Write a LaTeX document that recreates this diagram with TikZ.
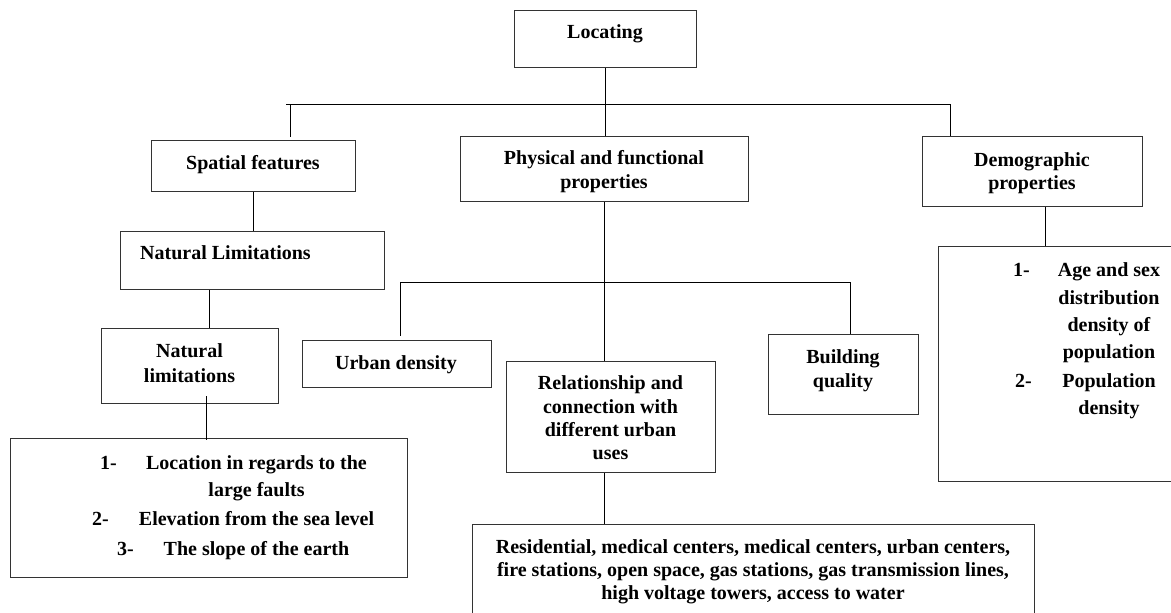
\documentclass[tikz,border=0pt]{standalone}
\usepackage{fontspec}
\setmainfont{Liberation Serif}
\begin{document}
\begin{tikzpicture}[x=1pt,y=-1pt,
  box/.style={draw=black!80, line width=1pt, rectangle, inner sep=0pt, anchor=north west},
  txt/.style={font=\fontsize{20}{23}\selectfont\bfseries, inner sep=0pt, anchor=base},
  txtl/.style={txt, anchor=base west},
  conn/.style={draw=black, line width=0.9pt}]
\useasboundingbox (0,0) rectangle (1171,613);
\clip (0,0) rectangle (1171,613);
\fill[white] (0,0) rectangle (1171,613);
% boxes
\node[box, minimum width=182, minimum height=57] (loc) at (514,10) {};
\node[box, minimum width=204, minimum height=51] (spat) at (151,140) {};
\node[box, minimum width=288, minimum height=65] (phys) at (460,136) {};
\node[box, minimum width=220, minimum height=70] (demo) at (922,136) {};
\node[box, minimum width=264, minimum height=58] (nl) at (120,231) {};
\node[box, minimum width=177, minimum height=75] (nl2) at (101,328) {};
\node[box, minimum width=397, minimum height=139] (list) at (10,438) {};
\node[box, minimum width=189, minimum height=47] (urban) at (302,340) {};
\node[box, minimum width=209, minimum height=111] (rel) at (506,361) {};
\node[box, minimum width=150, minimum height=80] (bldg) at (768,334) {};
\node[box, minimum width=562, minimum height=116] (uses) at (472,524) {};
\node[box, minimum width=252, minimum height=235] (demol) at (938,246) {};
% junction coordinates
\coordinate (barL) at (286,104);
\coordinate (barR) at (950,104);
\coordinate (b1) at (290,104);
\coordinate (bar2L) at (400,282);
\coordinate (bar2R) at (850,282);
% connectors
\draw[conn] (loc.south) -- (loc.south |- phys.north);
\draw[conn] (barL) -- (barR);
\draw[conn] (b1) -- ([yshift=3pt]b1 |- spat.north);
\draw[conn] (barR) -- (barR |- demo.north);
\draw[conn] (spat.south) -- (spat.south |- nl.north);
\draw[conn] ([xshift=-43pt]nl.south) -- ([xshift=-43pt]nl.south |- nl2.north);
\draw[conn] ([xshift=16pt,yshift=8pt]nl2.south) -- ([xshift=16pt,yshift=-2pt]nl2.south |- list.north);
\draw[conn] (phys.south) -- (phys.south |- rel.north);
\draw[conn] (bar2L) -- (bar2R);
\draw[conn] (bar2L) -- ([yshift=4pt]bar2L |- urban.north);
\draw[conn] (bar2R) -- (bar2R |- bldg.north);
\draw[conn] (phys.south |- rel.south) -- (phys.south |- uses.north);
\draw[conn] ([xshift=13pt]demo.south) -- ([xshift=13pt]demo.south |- demol.north);
% texts
\node[txt] (tloc) at (605,38) {Locating};
\node[txt] (tspat) at (253,169) {Spatial features};
\node[txt] (tphys1) at (604,164) {Physical and functional};
\node[txt] (tphys2) at (604,188) {properties};
\node[txt] (tdemo1) at (1032,166) {Demographic};
\node[txt] (tdemo2) at (1032,189) {properties};
\node[txtl] (tnl) at (140,259) {Natural Limitations};
\node[txt] (tnl21) at (189.5,357) {Natural};
\node[txt] (tnl22) at (189.5,382) {limitations};
\node[txt] (turban) at (396,369) {Urban density};
\node[txt] (trel1) at (610.5,389) {Relationship and};
\node[txt] (trel2) at (610.5,413) {connection with};
\node[txt] (trel3) at (610.5,436) {different urban};
\node[txt] (trel4) at (610.5,459) {uses};
\node[txt] (tb1) at (843,363) {Building};
\node[txt] (tb2) at (843,387) {quality};
\node[txtl] (n1) at (100,469) {1-};
\node[txt] (l1) at (256.5,469) {Location in regards to the};
\node[txt] (l1b) at (256.5,496) {large faults};
\node[txtl] (n2) at (92,525) {2-};
\node[txt] (l2) at (256.5,525) {Elevation from the sea level};
\node[txtl] (n3) at (117,555) {3-};
\node[txt] (l3) at (256.5,555) {The slope of the earth};
\node[txt] (u1) at (753,553) {Residential, medical centers, medical centers, urban centers,};
\node[txt] (u2) at (753,576) {fire stations, open space, gas stations, gas transmission lines,};
\node[txt] (u3) at (753,599) {high voltage towers, access to water};
\node[txtl] (d1n) at (1013,276) {1-};
\node[txt] (d1) at (1109,276) {Age and sex};
\node[txt] (d2) at (1109,304) {distribution};
\node[txt] (d3) at (1109,331) {density of};
\node[txt] (d4) at (1109,358) {population};
\node[txtl] (d2n) at (1015,387) {2-};
\node[txt] (d5) at (1109,387) {Population};
\node[txt] (d6) at (1109,414) {density};
\end{tikzpicture}
\end{document}
